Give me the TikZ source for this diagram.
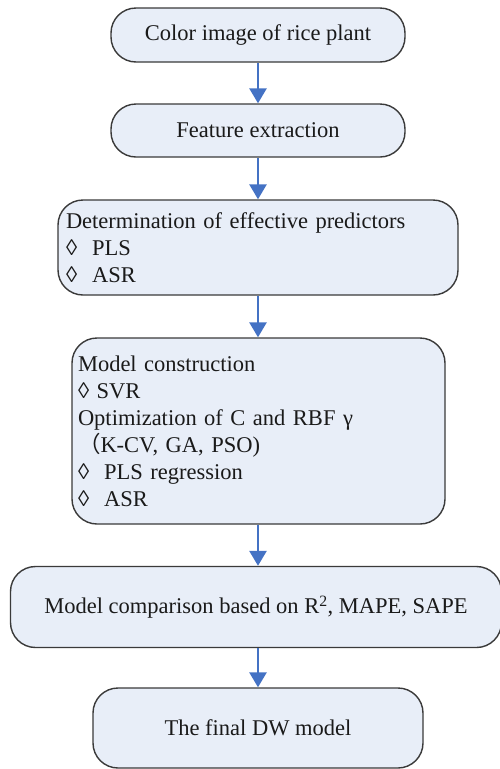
\documentclass[tikz,border=0pt]{standalone}
\usepackage{fontspec}
\setmainfont{Liberation Serif}
\newfontfamily\cjk{Noto Sans CJK SC}
\usetikzlibrary{arrows.meta}
\definecolor{boxfill}{HTML}{E8EEF8}
\definecolor{boxline}{HTML}{3A3A3A}
\definecolor{arrowblue}{HTML}{4472C4}
\definecolor{txt}{HTML}{1A1A1A}
\begin{document}
\begin{tikzpicture}[x=1pt,y=-1pt,
  font=\fontsize{22.5}{27}\selectfont,
  flowbox/.style={draw=boxline, fill=boxfill, line width=1.4pt, rounded corners=25pt, inner sep=0pt, text=txt},
  flowarrow/.style={draw=arrowblue, line width=2.8pt, -{Triangle[width=17pt,length=15pt]}}]
\useasboundingbox (0,0) rectangle (500,769);
\node[flowbox, minimum width=294pt, minimum height=54pt] (b1) at (258,35) {Color image of rice plant};
\node[flowbox, minimum width=294pt, minimum height=53pt] (b2) at (258,130.5) {Feature extraction};
\node[flowbox, minimum width=400pt, minimum height=95pt, text width=384pt, align=left] (b3) at (258,247.5)
  {Determination of effective predictors\\ ◊\ \ PLS\\ ◊\ \ ASR};
\node[flowbox, minimum width=373pt, minimum height=186pt, text width=361pt, align=left] (b4) at (258.5,431)
  {Model construction\\ ◊ SVR\\ Optimization of C and RBF γ\\ {\cjk （}K-CV, GA, PSO)\\ ◊\ \ PLS regression\\ ◊\ \ ASR};
\node[flowbox, minimum width=491pt, minimum height=81pt] (b5) at (256,607)
  {Model comparison based on R\textsuperscript{2}, MAPE, SAPE};
\node[flowbox, minimum width=330pt, minimum height=80pt] (b6) at (258,728) {The final DW model};
\draw[flowarrow] (b1.south) -- (b2.north);
\draw[flowarrow] (b2.south) -- (b3.north);
\draw[flowarrow] (b3.south) -- (b3.south |- b4.north);
\draw[flowarrow] (b3.south |- b4.south) -- (b3.south |- b5.north);
\draw[flowarrow] (b3.south |- b5.south) -- (b6.north);
\end{tikzpicture}
\end{document}
